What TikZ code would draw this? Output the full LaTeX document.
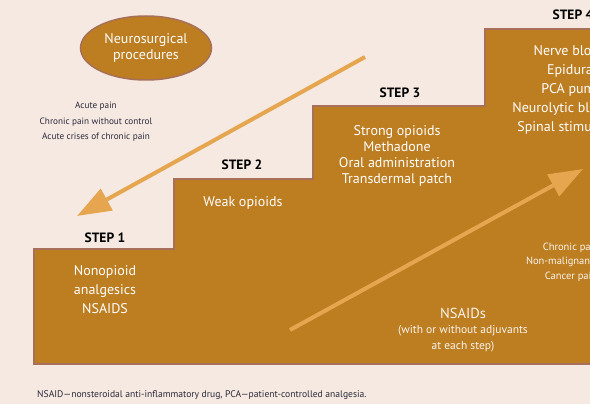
\documentclass[tikz,border=0pt]{standalone}
\usepackage{fontspec}
\setmainfont{PT Sans}
\usepackage{tikz}
\usetikzlibrary{arrows.meta, positioning, shapes.geometric}

\definecolor{paper}{HTML}{F5E9E1}
\definecolor{stair}{HTML}{BD7D21}
\definecolor{stairedge}{HTML}{A8705A}
\definecolor{arrowcol}{HTML}{E5A64F}
\definecolor{caption}{HTML}{2A2A3A}

\begin{document}
\begin{tikzpicture}[
        x=1pt, y=-1pt,
        font=\fontsize{12}{15.5}\selectfont,
        steplabel/.style={
            font=\fontsize{13.5}{14}\selectfont\bfseries,
            text=black,
            inner sep=0pt
        },
        druglist/.style={
            align=center,
            text=white,
            inner sep=0pt,
            font=\fontsize{14}{19}\selectfont
        },
        smalllist/.style={
            align=center,
            inner sep=0pt,
            font=\fontsize{9.2}{15.5}\selectfont
        },
        bigarrow/.style={
            -{Triangle[length=34pt, width=24pt]},
            line width=4pt,
            draw=arrowcol
        }
    ]

    \useasboundingbox (0,0) rectangle (590,404);
    \clip (0,0) rectangle (590,404);
    \fill[paper] (0,0) rectangle (590,404);

    % the staircase
    \draw[fill=stair, draw=stairedge, line width=2pt]
        (34,364) -- (34,249) -- (174,249) -- (174,179) -- (313,179)
        -- (313,106) -- (485,106) -- (485,29) -- (670,29) -- (670,364) -- cycle;

    \node[ellipse, fill=stair, draw=stairedge, line width=1.5pt,
        minimum width=131pt, minimum height=64pt, inner sep=0pt,
        align=center, text=white, font=\fontsize{14}{16}\selectfont]
        (neuro) at (146,48) {Neurosurgical\\procedures};

    \node[smalllist, text=caption] (acute) at (96,122)
        {Acute pain\\Chronic pain without control\\Acute crises of chronic pain};

    \node[steplabel] (step1) at (105,238) {STEP 1};
    \node[steplabel] (step2) at (242,165) {STEP 2};
    \node[steplabel] (step3) at (400,93) {STEP 3};
    \node[steplabel] (step4) at (573,15) {STEP 4};

    \node[druglist] (drugs1) at (105,290) {Nonopioid\\analgesics\\NSAIDS};
    \node[druglist] (drugs2) at (243,203) {Weak opioids};
    \node[druglist, font=\fontsize{14}{16.2}\selectfont] (drugs3) at (397,156)
        {Strong opioids\\Methadone\\Oral administration\\Transdermal patch};
    \node[druglist] (drugs4) at (572,90)
        {Nerve blocks\\Epidural\\PCA pump\\Neurolytic blockade\\Spinal stimulation};

    \node[smalllist, text=white!92!stair, font=\fontsize{10.5}{14.5}\selectfont]
        (chronic) at (571,262) {Chronic pain\\Non-malignant pain\\Cancer pain};

    \node[align=center, text=white!92!stair, inner sep=0pt,
        font=\fontsize{14.5}{15}\selectfont] (nsaids) at (463,313) {NSAIDs};
    \node[smalllist, text=white!92!stair, font=\fontsize{11.5}{16}\selectfont]
        (adjuv) at (463,339) {(with or without adjuvants\\at each step)};

    \coordinate (downstart) at (365,57);
    \coordinate (downend) at (77,216);
    \coordinate (upstart) at (290,330);
    \coordinate (upend) at (583,169);

    \draw[bigarrow] (downstart) -- (downend);
    \draw[bigarrow] (upstart) -- (upend);

    \node[anchor=west, inner sep=0pt, text=caption,
        font=\fontsize{9.6}{11}\selectfont] (note) at (37,395)
        {NSAID—nonsteroidal anti-inflammatory drug, PCA—patient-controlled analgesia.};

\end{tikzpicture}
\end{document}
